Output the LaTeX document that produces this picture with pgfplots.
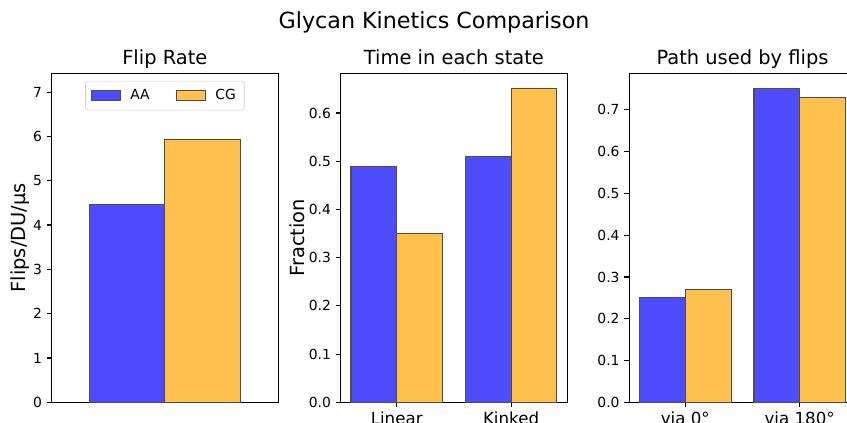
\documentclass[border=0pt]{standalone}
\usepackage{pgfplots}
\pgfplotsset{compat=1.18}
\usepackage{fontspec}
\setmainfont{DejaVu Sans}
\definecolor{aab}{RGB}{77,77,255}
\definecolor{cgo}{RGB}{255,192,77}
\definecolor{edgec}{RGB}{77,77,77}
\pgfplotsset{
  base/.style={
    scale only axis, height=236.9pt, width=163pt,
    ymin=0,
    axis line style={line width=0.8pt},
    tick align=outside, tick pos=left,
    major tick length=3.5pt,
    every tick/.style={black, line width=0.8pt},
    ybar, bar width=0.4,
    tick label style={font=\fontsize{10}{12}\selectfont},
    /pgf/number format/assume math mode=true,
    title style={font=\fontsize{14}{17}\selectfont, at={(0.5,1)}, anchor=base},
    ylabel style={font=\fontsize{14}{17}\selectfont},
    ylabel shift=-4pt,
    xticklabel style={font=\fontsize{12}{14}\selectfont},
  },
  aa/.style={fill=aab, draw=edgec, line width=0.8pt, bar shift=0pt},
  cg/.style={fill=cgo, draw=edgec, line width=0.8pt, bar shift=0pt},
}
\begin{document}
\begin{tikzpicture}
\useasboundingbox (0,0) rectangle (609.84pt,304.56pt);
% Axis 1
\begin{axis}[base, at={(37.2pt,14.9pt)}, anchor=south west,
  xmin=-0.6, xmax=0.6, ymax=7.425, xtick=\empty,
  ytick={0,1,2,3,4,5,6,7},
  title={Flip Rate}, ylabel={Flips/DU/µs},
  legend columns=2,
  legend image code/.code={\draw[#1, sharp corners] (0pt,-3.5pt) rectangle (20.5pt,3.5pt);},
  legend style={at={(0.5,0.977)}, anchor=north, draw=black!20, rounded corners=2pt,
    font=\fontsize{10}{12}\selectfont, inner sep=4pt,
    /tikz/every odd column/.append style={column sep=5pt},
    /tikz/every even column/.append style={column sep=17pt}},
]
\addplot[aa] coordinates {(-0.2,4.47)};
\addplot[cg] coordinates {(0.2,5.94)};
\legend{AA,CG}
\end{axis}
% Axis 2
\begin{axis}[base, at={(245.3pt,14.9pt)}, anchor=south west,
  xmin=-0.49, xmax=1.49, ymax=0.6825,
  xtick={0,1}, xticklabels={Linear,Kinked},
  ytick={0,0.1,0.2,0.3,0.4,0.5,0.6},
  yticklabel style={/pgf/number format/.cd, fixed, fixed zerofill, precision=1},
  title={Time in each state}, ylabel={Fraction},
]
\addplot[aa] coordinates {(-0.2,0.49) (0.8,0.51)};
\addplot[cg] coordinates {(0.2,0.35) (1.2,0.65)};
\end{axis}
% Axis 3
\begin{axis}[base, at={(453.1pt,14.9pt)}, anchor=south west,
  xmin=-0.49, xmax=1.49, ymax=0.7875,
  xtick={0,1}, xticklabels={via 0°,via 180°},
  ytick={0,0.1,0.2,0.3,0.4,0.5,0.6,0.7},
  yticklabel style={/pgf/number format/.cd, fixed, fixed zerofill, precision=1},
  title={Path used by flips},
]
\addplot[aa] coordinates {(-0.2,0.25) (0.8,0.75)};
\addplot[cg] coordinates {(0.2,0.27) (1.2,0.73)};
\end{axis}
\node[anchor=base, font=\fontsize{16}{19}\selectfont] at (312.5pt,283.7pt) {Glycan Kinetics Comparison};
\end{tikzpicture}
\end{document}
